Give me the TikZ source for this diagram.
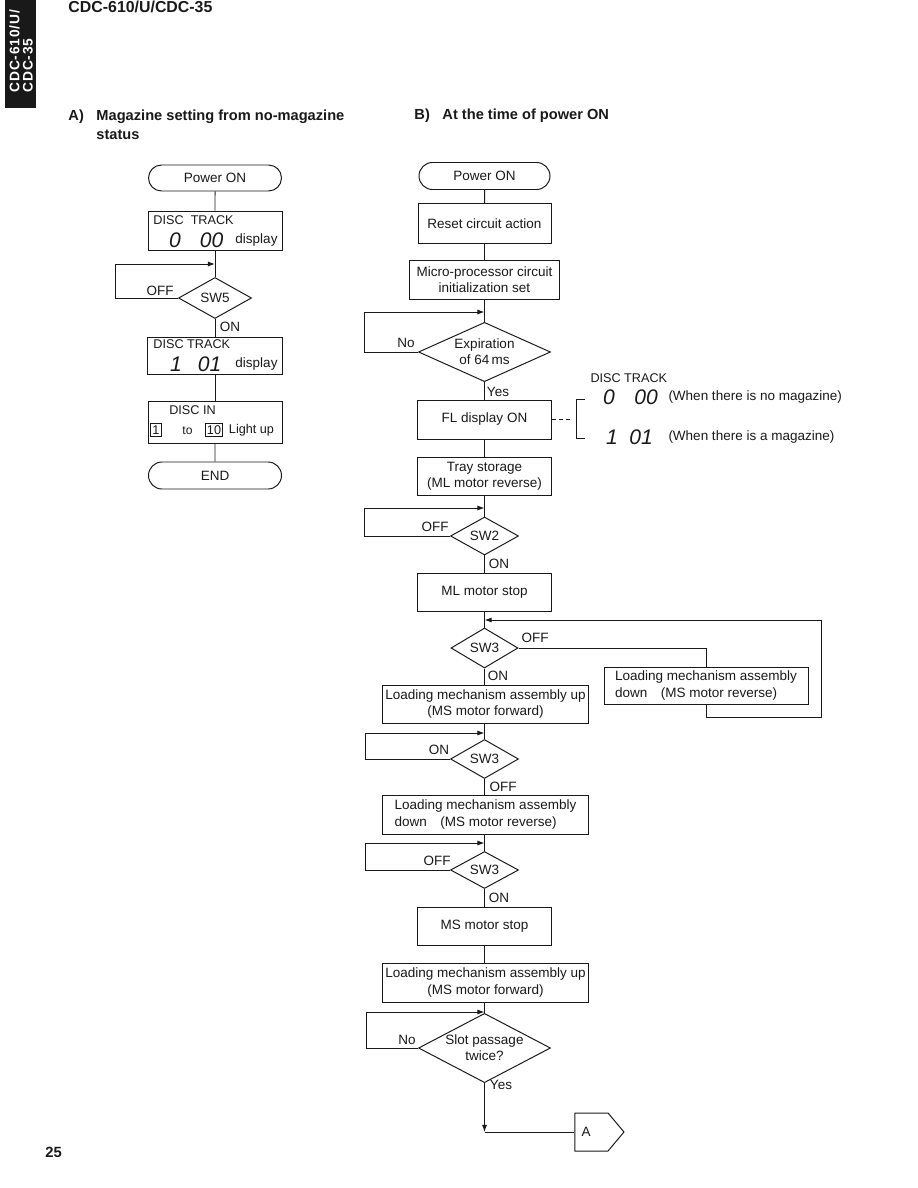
\documentclass[tikz,border=0pt]{standalone}
\usepackage{fontspec}
\setmainfont{Liberation Sans}
\usepackage{tikz}
\usetikzlibrary{calc,arrows.meta,positioning,shapes.geometric,shapes.misc,shapes.symbols}
\definecolor{inkBlack}{RGB}{25,25,25}
\newcommand{\flowfont}{\fontsize{9.6}{11.4}\selectfont}
\newcommand{\dispfont}{\fontsize{9}{10}\selectfont}
\newcommand{\tinyfont}{\fontsize{8.6}{9}\selectfont}
\newcommand{\segfont}{\fontsize{15}{15}\selectfont\itshape}
\newcommand{\headfont}{\fontsize{11.3}{13}\selectfont\bfseries}
\newcommand{\titlefont}{\fontsize{10.4}{13}\selectfont\bfseries}
\newcommand{\tabfont}{\fontsize{9.8}{11}\selectfont\bfseries\addfontfeature{LetterSpace=6}}
\setlength{\fboxsep}{1pt}
\setlength{\fboxrule}{0.6pt}
\tikzset{
  wh/.style 2 args={minimum width=#1*0.025cm, minimum height=#2*0.025cm},
  procbox/.style={draw, rectangle, inner sep=0pt, align=center, font=\flowfont},
  termbox/.style={draw, rounded rectangle, inner sep=0pt, font=\flowfont},
  decbox/.style={draw, diamond, inner sep=0pt, aspect=1.8, align=center, font=\flowfont},
  lbl/.style={inner sep=0pt, font=\flowfont},
  flow/.style={-{Latex[length=5pt,width=3.6pt]}},
}

\begin{document}
\begin{tikzpicture}[x=0.025cm,y=-0.025cm,line width=0.7pt,draw=inkBlack,text=inkBlack]
\useasboundingbox (0,0) rectangle (918,1188);

% page furniture
\fill[inkBlack] (5,0) rectangle (36,108);
\node[rotate=90, anchor=west, text=white, font=\tabfont, inner sep=0pt] (tab1) at (14.5,93) {CDC-610/U/};
\node[rotate=90, anchor=west, text=white, font=\tabfont, inner sep=0pt] (tab2) at (28,93) {CDC-35};
\node[anchor=west, font=\headfont, inner sep=0pt] (hdr) at (68,6.5) {CDC-610/U/CDC-35};
\node[anchor=base west, font=\fontsize{10.5}{12}\selectfont\bfseries, inner sep=0pt] (pageno) at (45,1157) {25};

% A) flow
\node[anchor=base west, font=\titlefont, inner sep=0pt] (ttlA) at (68,120.5) {A)};
\node[anchor=base west, font=\titlefont, inner sep=0pt] (ttlAa) at (96,120.5) {Magazine setting from no-magazine};
\node[anchor=base west, font=\titlefont, inner sep=0pt] (ttlAb) at (96,139.5) {status};

\node[termbox, wh={133}{26}] (lpow) at (215,178) {Power ON};
\node[procbox, wh={134}{39}] (ldisp0) at (215,230.5) {};
\node[lbl, font=\dispfont, anchor=west] (ldisp0t) at (153,220) {DISC\ \ TRACK};
\node[lbl, font=\segfont] (ldisp0a) at (175,240) {0};
\node[lbl, font=\segfont] (ldisp0b) at (211.5,240) {00};
\node[lbl, anchor=east] (ldisp0c) at (278,240) {display};
\coordinate (lj5) at (215,264);
\node[decbox, wh={73}{41}] (lsw5) at (215,298) {SW5};
\node[lbl] (loff5) at (160,291) {OFF};
\node[lbl] (lon5) at (230,327) {ON};
\node[procbox, wh={135}{37}] (ldisp1) at (215,356) {};
\node[lbl, font=\dispfont, anchor=west] (ldisp1t) at (153,344) {DISC TRACK};
\node[lbl, font=\segfont] (ldisp1a) at (176,364) {1};
\node[lbl, font=\segfont] (ldisp1b) at (209.5,364) {01};
\node[lbl, anchor=east] (ldisp1c) at (278,364) {display};
\node[procbox, wh={134}{42}] (ldiscin) at (215,422) {};
\node[lbl, font=\dispfont] (ldi0) at (192.5,410) {DISC IN};
\node[lbl, font=\dispfont] (ldi1) at (156,430) {\fbox{1}};
\node[lbl, font=\tinyfont] (ldi2) at (187.5,431) {to};
\node[lbl, font=\dispfont] (ldi3) at (214,430) {\fbox{10}};
\node[lbl, font=\dispfont] (ldi4) at (251.5,430) {Light up};
\node[termbox, wh={133}{27}] (lend) at (215,475.5) {END};

\draw (lpow) -- (ldisp0);
\draw (ldisp0) -- (lsw5);
\draw[flow] (lsw5.west) -- ++(-63,0) |- (lj5);
\draw (lsw5) -- (ldisp1);
\draw (ldisp1) -- (ldiscin);
\draw (ldiscin) -- (lend);

% B) flow
\node[anchor=base west, font=\titlefont, inner sep=0pt] (ttlB) at (414,120) {B)};
\node[anchor=base west, font=\titlefont, inner sep=0pt] (ttlBa) at (442,120) {At the time of power ON};

\node[termbox, wh={131}{27}] (rpow) at (484.5,176) {Power ON};
\node[procbox, wh={133}{40}] (rreset) at (484.5,223.5) {Reset circuit action};
\node[procbox, wh={150}{39}] (rmicro) at (484.5,280) {Micro-processor circuit\\initialization set};
\coordinate (rj1) at (484.5,312);
\node[decbox, wh={132}{59}] (rexp) at (484.5,352) {Expiration\\of 64\,ms};
\node[lbl] (rno1) at (406,343) {No};
\node[lbl] (ryes1) at (498,392) {Yes};
\node[procbox, wh={134}{39}] (rfl) at (484.5,419.5) {FL display ON};
\node[procbox, wh={134}{38}] (rtray) at (484.5,476) {Tray storage\\(ML motor reverse)};
\coordinate (rj2) at (484.5,508);
\node[decbox, wh={68}{38}] (rsw2) at (484.5,536) {SW2};
\node[lbl] (roff2) at (435,527) {OFF};
\node[lbl] (ron2) at (499,564) {ON};
\node[procbox, wh={134}{38}] (rmlstop) at (484.5,592) {ML motor stop};
\coordinate (rj3) at (484.5,620);
\node[decbox, wh={67}{40}] (rsw3a) at (484.5,648) {SW3};
\node[lbl] (roff3a) at (535,638) {OFF};
\node[lbl] (ron3a) at (498,676) {ON};
\node[procbox, wh={204}{37}, align=left] (rdown1) at (706,685.5) {Loading mechanism assembly\\down\quad(MS motor reverse)};
\node[procbox, wh={206}{38}] (rup1) at (485.5,704) {Loading mechanism assembly up\\(MS motor forward)};
\coordinate (rj4) at (484.5,733);
\node[decbox, wh={68}{39}] (rsw3b) at (484.5,759) {SW3};
\node[lbl] (ron3b) at (439,750) {ON};
\node[lbl] (roff3b) at (503,787) {OFF};
\node[procbox, wh={206}{39}, align=left] (rdown2) at (485.5,814.5) {Loading mechanism assembly\\down\quad(MS motor reverse)};
\coordinate (rj5) at (484.5,843);
\node[decbox, wh={68}{37}] (rsw3c) at (484.5,870) {SW3};
\node[lbl] (roff3c) at (437,861) {OFF};
\node[lbl] (ron3c) at (499,898) {ON};
\node[procbox, wh={134}{38}] (rmsstop) at (484.5,926) {MS motor stop};
\node[procbox, wh={206}{39}] (rup2) at (485.5,982.5) {Loading mechanism assembly up\\(MS motor forward)};
\coordinate (rj6) at (484.5,1012);
\node[decbox, wh={132}{58}] (rslot) at (484.5,1048) {Slot passage\\twice?};
\node[lbl] (rno2) at (407,1040) {No};
\node[lbl] (ryes2) at (501,1085) {Yes};
\coordinate (rjA) at (484.5,1132);
\node[draw, signal, signal to=east, signal pointer angle=100, wh={49}{38}, inner sep=0pt] (rA) at (591.5,1132) {};
\node[lbl] (rAtxt) at (586,1132) {A};

% display note beside FL display
\node[lbl, font=\dispfont, anchor=west] (rdt) at (590,378) {DISC TRACK};
\node[lbl, font=\segfont] (rd0a) at (609,397) {0};
\node[lbl, font=\segfont] (rd0b) at (646,397) {00};
\node[lbl, anchor=west] (rd0c) at (668,397) {(When there is no magazine)};
\node[lbl, font=\segfont] (rd1a) at (612,437) {1};
\node[lbl, font=\segfont] (rd1b) at (641,437) {01};
\node[lbl, anchor=west] (rd1c) at (668,437) {(When there is a magazine)};
\draw[dash pattern=on 3pt off 2pt] (rfl.east) -- (573,419.5);
\draw (585,399) -- (576,399) -- (576,438) -- (585,438);

\draw (rpow) -- (rreset);
\draw (rreset) -- (rmicro);
\draw (rmicro) -- (rexp);
\draw[flow] (rexp.west) -- ++(-54,0) |- (rj1);
\draw (rexp) -- (rfl);
\draw (rfl) -- (rtray);
\draw (rtray) -- (rsw2);
\draw[flow] (rsw2.west) -- ++(-86,0) |- (rj2);
\draw (rsw2) -- (rmlstop);
\draw (rmlstop) -- (rsw3a);
\draw (rsw3a.east) -| (rdown1.north);
\draw[flow] (rdown1.south) -- ++(0,13) -| (821,620) -- (rj3);
\draw (rsw3a) -- (rup1.north -| rsw3a);
\draw (rup1.south -| rsw3b) -- (rsw3b);
\draw[flow] (rsw3b.west) -- ++(-85,0) |- (rj4);
\draw (rsw3b) -- (rdown2.north -| rsw3b);
\draw (rdown2.south -| rsw3c) -- (rsw3c);
\draw[flow] (rsw3c.west) -- ++(-85,0) |- (rj5);
\draw (rsw3c) -- (rmsstop);
\draw (rmsstop.south) -- (rup2.north -| rmsstop);
\draw (rup2.south -| rslot) -- (rslot);
\draw[flow] (rslot.west) -- ++(-52,0) |- (rj6);
\draw[flow] (rslot) -- (rjA);
\draw (rjA) -- (rA.west);
\end{tikzpicture}
\end{document}
